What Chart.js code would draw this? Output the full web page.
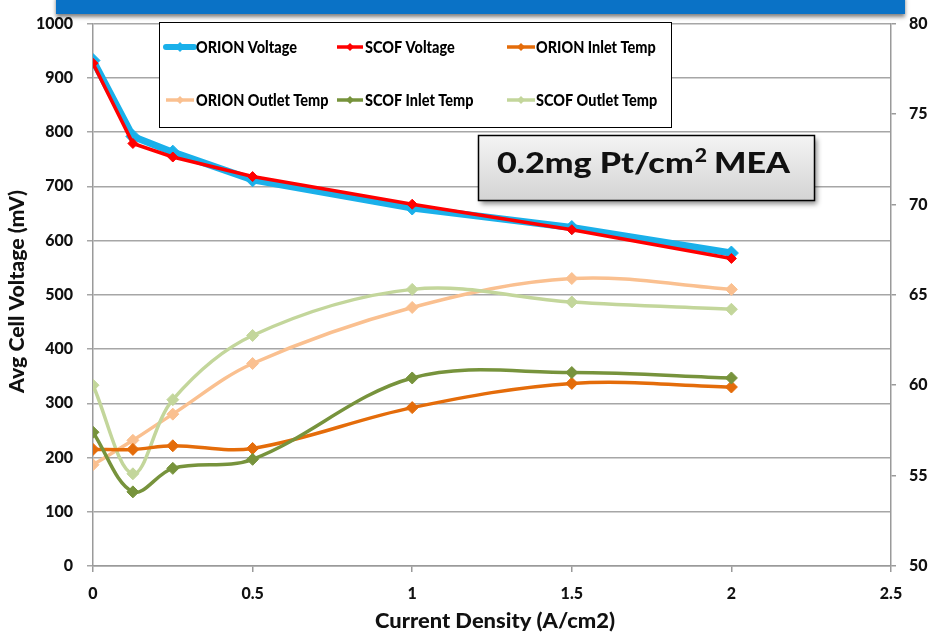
<!DOCTYPE html>
<html>
<head>
<meta charset="utf-8">
<script src="https://cdn.jsdelivr.net/npm/chart.js@4/dist/chart.umd.min.js"></script>
<style>
html,body{margin:0;padding:0;background:#fff;}
#wrap{width:933px;height:634px;}
</style>
</head>
<body>
<div id="wrap"><canvas id="c" width="933" height="634"></canvas></div>
<script>
// ---- data ----
const currentDensity = [0, 0.125, 0.25, 0.5, 1, 1.5, 2];
const orionVoltage   = [932, 792, 763, 712, 660, 624, 577];
const scofVoltage    = [927, 779, 754, 718, 667, 620, 567];
const orionInlet     = [56.45, 56.45, 56.65, 56.5, 58.76, 60.1, 59.9];
const orionOutlet    = [55.6, 56.95, 58.4, 61.2, 64.3, 65.9, 65.3];
const scofInlet      = [57.4, 54.1, 55.4, 55.9, 60.4, 60.7, 60.4];
const scofOutlet     = [60.0, 55.1, 59.2, 62.75, 65.3, 64.6, 64.2];
const seriesNames = ['ORION Voltage','SCOF Voltage','ORION Inlet Temp','ORION Outlet Temp','SCOF Inlet Temp','SCOF Outlet Temp'];
const xTicks  = [0, 0.5, 1, 1.5, 2, 2.5];
const yTicks  = [0,100,200,300,400,500,600,700,800,900,1000];
const y2Ticks = [50,55,60,65,70,75,80];
const xTitle = 'Current Density (A/cm2)';
const yTitle = 'Avg Cell Voltage (mV)';
const boxText = '0.2mg Pt/cm² MEA';

const pts = arr => currentDensity.map((x,i)=>({x:x, y:arr[i]}));
const FONT = 'Lato, "Liberation Sans", sans-serif';
const W = '900';

function ds(label, data, color, axis, width, radius, tension, order){
  return {label, data: pts(data), borderColor: color, backgroundColor: color,
    yAxisID: axis, borderWidth: width, pointStyle: 'rectRot', pointRadius: radius,
    pointBorderWidth: 1, pointHoverRadius: radius, tension: tension, order: order,
    cubicInterpolationMode: 'default'};
}

const datasets = [
  ds(seriesNames[0], orionVoltage, '#1ab0ea', 'y', 7, 7, 0, 6),
  ds(seriesNames[1], scofVoltage, '#ff0000', 'y', 3.5, 5, 0, 0),
  ds(seriesNames[2], orionInlet, '#e46c0a', 'y1', 3.5, 6, 0.35, 2),
  ds(seriesNames[3], orionOutlet, '#fac090', 'y1', 3.5, 6, 0.35, 5),
  ds(seriesNames[4], scofInlet, '#77933c', 'y1', 3.5, 6, 0.35, 1),
  ds(seriesNames[5], scofOutlet, '#c3d69b', 'y1', 3.5, 6, 0.35, 4)
];

function setTicks(arr){ return function(scale){ scale.ticks = arr.map(v=>({value:v})); }; }

function fitText(ctx, text, cx, cy, targetW){
  const w = ctx.measureText(text).width;
  ctx.save();
  ctx.translate(cx, cy);
  ctx.scale(targetW / w, 1);
  ctx.textAlign = 'center';
  ctx.fillText(text, 0, 0);
  ctx.restore();
}

const overlay = {
  id: 'overlay',
  afterDraw(chart){
    const ctx = chart.ctx;
    ctx.save();
    // axis titles
    ctx.fillStyle = '#111';
    ctx.textBaseline = 'middle';
    ctx.font = W + ' 20px ' + FONT;
    fitText(ctx, xTitle, 495, 622, 240);
    ctx.save();
    ctx.translate(18, 291.5);
    ctx.rotate(-Math.PI/2);
    fitText(ctx, yTitle, 0, 0, 203);
    ctx.restore();

    // legend box
    ctx.fillStyle = '#fff';
    ctx.fillRect(159, 22, 512, 105);
    ctx.strokeStyle = '#000';
    ctx.lineWidth = 1;
    ctx.strokeRect(159.5, 22.5, 512, 105);
    const cols = [[166,194,196],[337,363,365],[507,535,536]];
    const rows = [47, 100];
    chart.data.datasets.forEach((d,i)=>{
      const c = cols[i%3], y = rows[Math.floor(i/3)];
      ctx.strokeStyle = d.borderColor;
      ctx.lineWidth = Math.min(d.borderWidth, 6);
      ctx.lineCap = i===0 ? 'round':'butt';
      ctx.beginPath(); ctx.moveTo(c[0], y); ctx.lineTo(c[1], y); ctx.stroke();
      const mx = (c[0]+c[1])/2, r = i===0?5:4;
      ctx.fillStyle = d.borderColor;
      ctx.beginPath(); ctx.moveTo(mx, y-r); ctx.lineTo(mx+r, y); ctx.lineTo(mx, y+r); ctx.lineTo(mx-r, y); ctx.closePath(); ctx.fill();
      ctx.fillStyle = '#000';
      ctx.font = W + ' 17px ' + FONT;
      ctx.textBaseline = 'middle';
      ctx.textAlign = 'left';
      ctx.save();
      ctx.translate(c[2], y+1);
      ctx.scale(0.85, 1);
      ctx.fillText(d.label, 0, 0);
      ctx.restore();
    });
    // annotation box
    ctx.save();
    ctx.shadowColor = 'rgba(0,0,0,0.45)';
    ctx.shadowBlur = 5; ctx.shadowOffsetX = 3; ctx.shadowOffsetY = 4;
    const g = ctx.createLinearGradient(0,135,0,200);
    g.addColorStop(0,'#f4f4f4'); g.addColorStop(1,'#d4d4d4');
    ctx.fillStyle = g;
    ctx.fillRect(478, 135, 336, 65);
    ctx.restore();
    ctx.strokeStyle = '#000'; ctx.lineWidth = 1.5;
    ctx.strokeRect(478.5, 135.5, 336, 65);
    // text with superscript
    const parts = boxText.split('²');
    const big = W + ' 29px ' + FONT, small = W + ' 18px ' + FONT;
    ctx.font = big; const w1 = ctx.measureText(parts[0]).width, w3 = ctx.measureText(parts[1]).width;
    ctx.font = small; const w2 = ctx.measureText('2').width;
    const total = w1 + w2 + w3, target = 293, sx = target / total;
    ctx.save();
    ctx.translate(497, 164);
    ctx.scale(sx, 1);
    ctx.fillStyle = '#111';
    ctx.textAlign = 'left'; ctx.textBaseline = 'alphabetic';
    ctx.font = big; ctx.fillText(parts[0], 0, 9);
    ctx.font = small; ctx.fillText('2', w1 + 1, -2);
    ctx.font = big; ctx.fillText(parts[1], w1 + w2, 9);
    ctx.restore();
    // banner
    ctx.save();
    ctx.shadowColor = 'rgba(0,0,0,0.5)';
    ctx.shadowBlur = 4; ctx.shadowOffsetY = 3; ctx.shadowOffsetX = 0;
    ctx.fillStyle = '#0a72c6';
    ctx.fillRect(56, -5, 849, 19);
    ctx.restore();
    ctx.restore();
  }
};

const tickFont = { family: FONT, size: 16, weight: W };
new Chart(document.getElementById('c'), {
  type: 'line',
  data: { datasets },
  options: {
    responsive: false,
    animation: false,
    layout: { padding: { top: 18, left: 0, right: 0, bottom: 0 } },
    plugins: { legend: { display: false }, tooltip: { enabled: false } },
    scales: {
      x: {
        type: 'linear', min: 0, max: 2.5,
        afterBuildTicks: setTicks(xTicks),
        afterFit(s){ s.height = 68; },
        grid: { drawOnChartArea: false, drawTicks: true, tickLength: 6, color: '#9a9a9a', lineWidth: 1.5 },
        border: { color: '#9a9a9a', width: 1.5 },
        ticks: { color: '#111', font: tickFont, padding: 12, maxRotation: 0, callback: v => String(v) }
      },
      y: {
        position: 'left', min: 0, max: 1000,
        afterBuildTicks: setTicks(yTicks),
        afterFit(s){ s.width = 93; },
        grid: { color: '#a6a6a6', lineWidth: 1.5, tickLength: 6 },
        border: { color: '#9a9a9a', width: 1.5 },
        ticks: { color: '#111', font: tickFont, padding: 14, callback: v => String(v) }
      },
      y1: {
        position: 'right', min: 50, max: 80,
        afterBuildTicks: setTicks(y2Ticks),
        afterFit(s){ s.width = 42; },
        grid: { drawOnChartArea: false, color: '#9a9a9a', lineWidth: 1.5, tickLength: 5 },
        border: { color: '#9a9a9a', width: 1.5 },
        ticks: { color: '#111', font: tickFont, padding: 13, callback: v => String(v) }
      }
    }
  },
  plugins: [overlay]
});
</script>
</body>
</html>
